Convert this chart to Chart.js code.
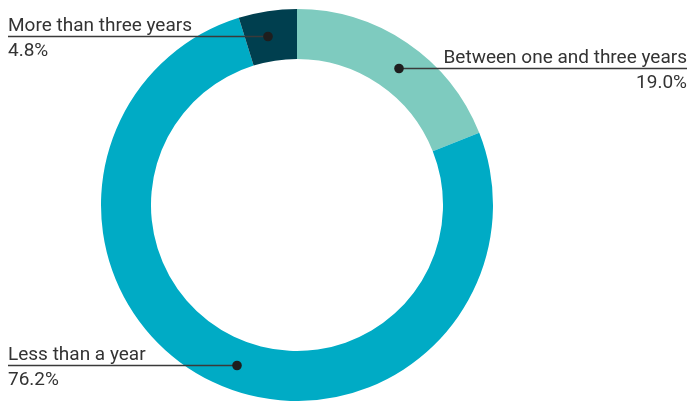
<!DOCTYPE html>
<html>
<head>
<meta charset="utf-8">
<script src="https://cdn.jsdelivr.net/npm/chart.js@4"></script>
<style>
  html, body { margin: 0; padding: 0; background: #fff; }
  #wrap { width: 688px; height: 401px; position: relative; }
</style>
</head>
<body>
<div id="wrap"><canvas id="donut"></canvas></div>
<script>
// data
const categories = ['Between one and three years', 'Less than a year', 'More than three years']
const shares = [19.0, 76.2, 4.8]
const colors = ['#7ECBBF', '#00ABC5', '#003F4F']
// which side the label goes to, and a small nudge (degrees) of the dot along the ring
const sides = ['right', 'left', 'left']
const nudges = [2.4, -5, -1]

// callout labels: dot on the ring, line out to the edge, name above, value below
const callouts = {
  id: 'callouts',
  afterDatasetsDraw(chart) {
    const ctx = chart.ctx
    const meta = chart.getDatasetMeta(0)
    ctx.save()
    meta.data.forEach((arc, i) => {
      const a = (arc.startAngle + arc.endAngle) / 2 + nudges[i] * Math.PI / 180
      const r = (arc.innerRadius + arc.outerRadius) / 2
      const x = Math.round(arc.x + Math.cos(a) * r)
      const y = Math.round(arc.y + Math.sin(a) * r) + 0.5
      const left = sides[i] === 'left'
      const endX = left ? 8 : chart.width - 1

      ctx.strokeStyle = '#3a3a3a'
      ctx.lineWidth = 1.4
      ctx.beginPath()
      ctx.moveTo(x, y)
      ctx.lineTo(endX, y)
      ctx.stroke()

      ctx.fillStyle = '#1e1e1e'
      ctx.beginPath()
      ctx.arc(x, y, 4.8, 0, Math.PI * 2)
      ctx.fill()

      ctx.fillStyle = '#333'
      ctx.font = '19px Roboto'
      ctx.textAlign = left ? 'left' : 'right'
      ctx.textBaseline = 'alphabetic'
      ctx.fillText(categories[i], endX, y - 5.5)
      ctx.fillText(shares[i].toFixed(1) + '%', endX, y + 19)
    })
    ctx.restore()
  }
}

const config = {
  type: 'doughnut',
  data: {
    labels: categories,
    datasets: [{
      data: shares,
      backgroundColor: colors,
      borderWidth: 0,
      hoverOffset: 0
    }]
  },
  options: {
    responsive: true,
    maintainAspectRatio: false,
    animation: false,
    cutout: '74.5%',
    layout: { padding: { top: 9, right: 94, left: 0, bottom: 0 } },
    plugins: {
      legend: { display: false },
      tooltip: { enabled: false }
    }
  },
  plugins: [callouts]
}

let myChart = new Chart(document.querySelector('#donut'), config)
</script>
</body>
</html>
